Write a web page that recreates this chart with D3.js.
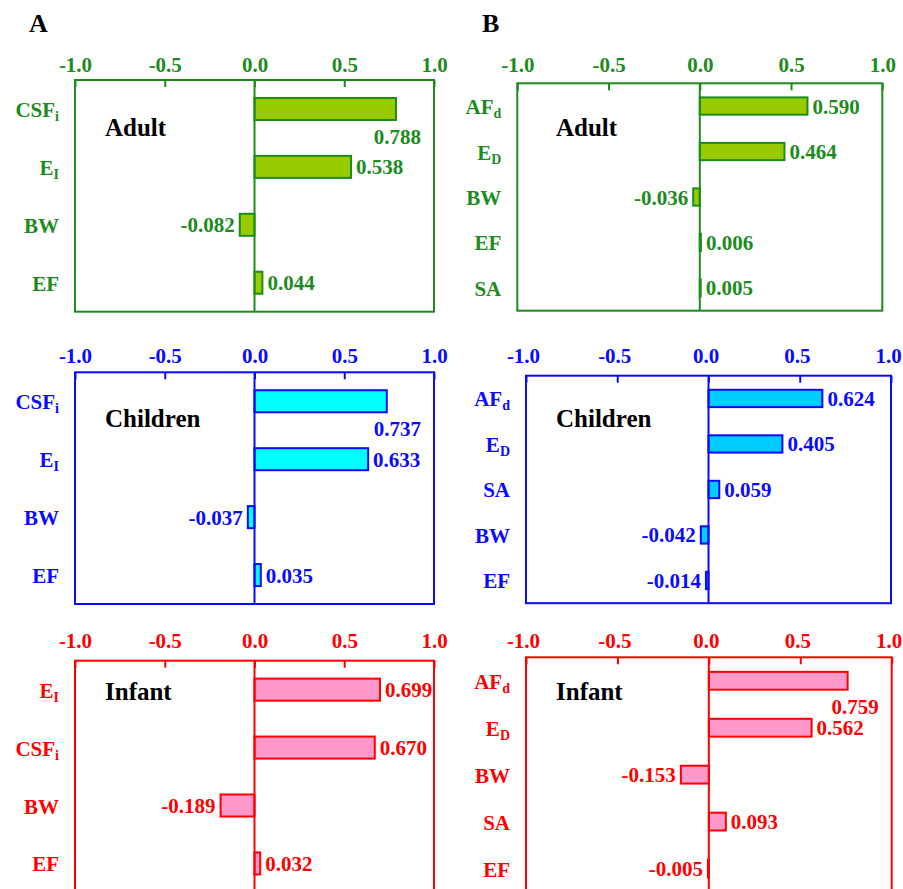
<!DOCTYPE html>
<html>
<head>
<meta charset="utf-8">
<script src="https://cdn.jsdelivr.net/npm/d3@7"></script>
<style>
  html, body { margin: 0; padding: 0; background: #ffffff; }
  svg { display: block; }
</style>
</head>
<body>
<svg id="chart" width="903" height="889"></svg>
<script>
// Sensitivity coefficients (rank correlation) of the risk inputs
const tickValues = [-1, -0.5, 0, 0.5, 1];
const tickLabels = ["-1.0", "-0.5", "0.0", "0.5", "1.0"];

// Column A (inhalation)
const adultA_params = ["CSF_i", "E_I", "BW", "EF"];
const adultA_values = [0.788, 0.538, -0.082, 0.044];
const childA_params = ["CSF_i", "E_I", "BW", "EF"];
const childA_values = [0.737, 0.633, -0.037, 0.035];
const infantA_params = ["E_I", "CSF_i", "BW", "EF"];
const infantA_values = [0.699, 0.670, -0.189, 0.032];

// Column B (dermal)
const adultB_params = ["AF_d", "E_D", "BW", "EF", "SA"];
const adultB_values = [0.590, 0.464, -0.036, 0.006, 0.005];
const childB_params = ["AF_d", "E_D", "SA", "BW", "EF"];
const childB_values = [0.624, 0.405, 0.059, -0.042, -0.014];
const infantB_params = ["AF_d", "E_D", "BW", "SA", "EF"];
const infantB_values = [0.759, 0.562, -0.153, 0.093, -0.005];

const groupNames = ["Adult", "Children", "Infant"];
const columnLetters = ["A", "B"];

// Group palettes: axis/text colour, bar fill per column
const palette = {
  Adult:    { ink: "#1c8c1c", fillA: "#99cc00", fillB: "#99cc00" },
  Children: { ink: "#0a0aff", fillA: "#00ffff", fillB: "#00ccff" },
  Infant:   { ink: "#ff0000", fillA: "#ff99cc", fillB: "#ff99cc" }
};

const FONT = "'Liberation Serif', 'Times New Roman', serif";

// Panel frames
const panels = [
  { col: 0, group: "Adult",    params: adultA_params,  values: adultA_values,  x0: 75,    x1: 434,   y0: 80,    y1: 311.7, tickY: 72,    tickDx: 0 },
  { col: 0, group: "Children", params: childA_params,  values: childA_values,  x0: 75,    x1: 434,   y0: 372.3, y1: 604,   tickY: 362.5, tickDx: 0 },
  { col: 0, group: "Infant",   params: infantA_params, values: infantA_values, x0: 75,    x1: 434,   y0: 660.7, y1: 892.4, tickY: 648,   tickDx: 0 },
  { col: 1, group: "Adult",    params: adultB_params,  values: adultB_values,  x0: 517.3, x1: 882.3, y0: 83.3,  y1: 310.7, tickY: 72,    tickDx: 0 },
  { col: 1, group: "Children", params: childB_params,  values: childB_values,  x0: 526,   x1: 891,   y0: 375.7, y1: 603.2, tickY: 363,   tickDx: -3 },
  { col: 1, group: "Infant",   params: infantB_params, values: infantB_values, x0: 526,   x1: 891.7, y0: 657.3, y1: 892,   tickY: 648,   tickDx: -3 }
];
const groupTitleX = [105, 556];
const groupTitleY = { Adult: 136, Children: 427, Infant: 700 };

const svg = d3.select("#chart");

// Column letters
svg.selectAll("text.col-letter")
  .data(columnLetters)
  .join("text")
  .attr("class", "col-letter")
  .attr("x", (d, i) => [29, 482][i])
  .attr("y", 32)
  .attr("font-family", FONT)
  .attr("font-weight", "bold")
  .attr("font-size", 26)
  .attr("fill", "#000")
  .text(d => d);

function addLabel(sel, name) {
  const parts = name.split("_");
  sel.append("tspan").text(parts[0]);
  if (parts.length > 1) {
    sel.append("tspan")
      .attr("font-size", 14)
      .attr("dy", 4)
      .text(parts[1]);
  }
}

panels.forEach(p => {
  const pal = palette[p.group];
  const fill = p.col === 0 ? pal.fillA : pal.fillB;
  const g = svg.append("g");

  const x = d3.scaleLinear().domain([-1, 1]).range([p.x0, p.x1]);
  const y = d3.scaleBand()
    .domain(d3.range(p.params.length))
    .range([p.y0, p.y1])
    .paddingInner(0.62)
    .paddingOuter(0.31);

  // Frame
  g.append("rect")
    .attr("x", p.x0).attr("y", p.y0)
    .attr("width", p.x1 - p.x0).attr("height", p.y1 - p.y0)
    .attr("fill", "none")
    .attr("stroke", pal.ink)
    .attr("stroke-width", 2);

  // Top axis with inward ticks
  const axis = d3.axisTop(x)
    .tickValues(tickValues)
    .tickFormat((d, i) => tickLabels[i])
    .tickSize(-7)
    .tickPadding(p.y0 - p.tickY);
  const ag = g.append("g")
    .attr("transform", `translate(0,${p.y0})`)
    .call(axis);
  ag.select(".domain").remove();
  ag.selectAll(".tick line").attr("stroke", pal.ink).attr("stroke-width", 2);
  ag.selectAll(".tick text")
    .attr("dx", p.tickDx)
    .attr("fill", pal.ink)
    .attr("font-family", FONT)
    .attr("font-weight", "bold")
    .attr("font-size", 21);

  // Bars
  const rows = p.params.map((name, i) => ({ name, value: p.values[i], i }));
  g.selectAll("rect.bar")
    .data(rows)
    .join("rect")
    .attr("class", "bar")
    .attr("x", d => Math.min(x(0), x(d.value)))
    .attr("y", d => y(d.i))
    .attr("width", d => Math.abs(x(d.value) - x(0)))
    .attr("height", y.bandwidth())
    .attr("fill", fill)
    .attr("stroke", pal.ink)
    .attr("stroke-width", 2);

  // Zero line
  g.append("line")
    .attr("x1", x(0)).attr("x2", x(0))
    .attr("y1", p.y0).attr("y2", p.y1)
    .attr("stroke", pal.ink)
    .attr("stroke-width", 2);

  // Category labels
  g.selectAll("text.cat")
    .data(rows)
    .join("text")
    .attr("class", "cat")
    .attr("x", p.x0 - 16)
    .attr("y", d => y(d.i) + y.bandwidth() / 2 + 8)
    .attr("text-anchor", "end")
    .attr("font-family", FONT)
    .attr("font-weight", "bold")
    .attr("font-size", 21)
    .attr("fill", pal.ink)
    .each(function(d) { addLabel(d3.select(this), d.name); });

  // Value labels
  g.selectAll("text.val")
    .data(rows)
    .join("text")
    .attr("class", "val")
    .attr("font-family", FONT)
    .attr("font-weight", "bold")
    .attr("font-size", 21)
    .attr("fill", pal.ink)
    .text(d => d.value.toFixed(3))
    .each(function(d) {
      const t = d3.select(this);
      const w = this.getComputedTextLength();
      const cy = y(d.i) + y.bandwidth() / 2;
      const xe = x(d.value);
      if (d.value >= 0) {
        if (xe + 5 + w > p.x1) {
          t.attr("x", p.x1 - 13).attr("y", y(d.i) + y.bandwidth() + 24).attr("text-anchor", "end");
        } else {
          t.attr("x", xe + 5).attr("y", cy + 7.5).attr("text-anchor", "start");
        }
      } else {
        t.attr("x", xe - 5).attr("y", cy + 7.5).attr("text-anchor", "end");
      }
    });

  // Group title
  g.append("text")
    .attr("x", groupTitleX[p.col])
    .attr("y", groupTitleY[p.group])
    .attr("font-family", FONT)
    .attr("font-weight", "bold")
    .attr("font-size", 25)
    .attr("fill", "#000")
    .text(p.group);
});
</script>
</body>
</html>
